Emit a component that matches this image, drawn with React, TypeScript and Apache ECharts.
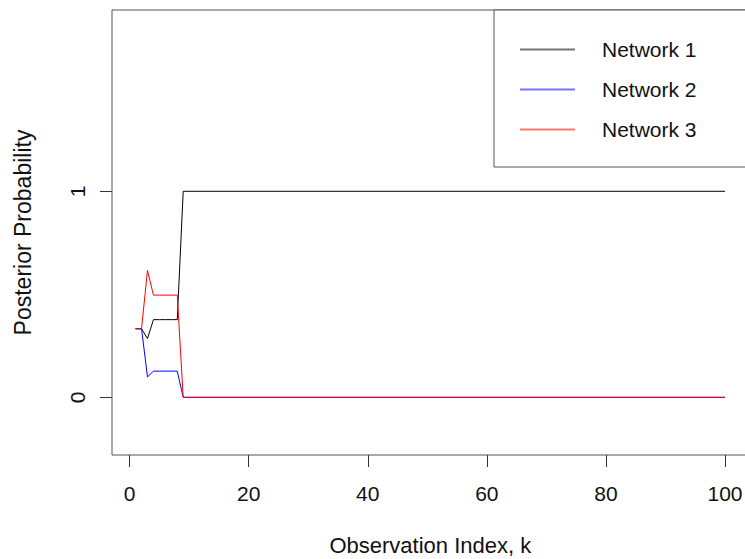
import React, { useEffect, useRef } from "react";
import * as echarts from "echarts";

// Observation index k (points where the lines change; lines are flat between 9 and 100)
const obsIndex = [1, 2, 3, 4, 5, 6, 7, 8, 9, 100];
const network1 = [0.333, 0.333, 0.285, 0.377, 0.377, 0.377, 0.377, 0.377, 1, 1];
const network2 = [0.333, 0.333, 0.099, 0.127, 0.127, 0.127, 0.127, 0.127, 0, 0];
const network3 = [0.333, 0.333, 0.616, 0.496, 0.496, 0.496, 0.496, 0.496, 0, 0];

const seriesNames = ["Network 1", "Network 2", "Network 3"];
const seriesColors = ["#000000", "#0000ff", "#ff0000"];
const xTicks = [0, 20, 40, 60, 80, 100];
const yTicks = [0, 1];

const FONT = "'Liberation Sans', Arial, Helvetica, sans-serif";

export default function App() {
  const ref = useRef<HTMLDivElement>(null);
  useEffect(() => {
    if (!ref.current) return;
    const chart = echarts.init(ref.current, null, { renderer: "svg" });
    const values = [network1, network2, network3];
    chart.setOption({
      animation: false,
      backgroundColor: "#ffffff",
      grid: {
        left: 112,
        top: 10,
        width: 636.6,
        height: 445,
        show: true,
        borderColor: "#555",
        borderWidth: 1,
        backgroundColor: "transparent",
        containLabel: false,
        outerBoundsMode: "none",
      },
      xAxis: {
        type: "value",
        min: -2.96,
        max: 103.96,
        name: "Observation Index, k",
        nameLocation: "middle",
        nameGap: 79,
        nameTextStyle: { fontFamily: FONT, fontSize: 22, color: "#111" },
        axisLine: { show: false, onZero: false },
        splitLine: { show: false },
        axisTick: {
          show: true,
          length: 12,
          customValues: xTicks,
          lineStyle: { color: "#333", width: 1 },
        },
        axisLabel: {
          customValues: xTicks,
          margin: 28,
          fontFamily: FONT,
          fontSize: 21,
          color: "#111",
          hideOverlap: false,
        },
      },
      yAxis: {
        type: "value",
        min: -0.28,
        max: 1.88,
        name: "Posterior Probability",
        nameLocation: "middle",
        nameGap: 78,
        nameTextStyle: { fontFamily: FONT, fontSize: 23, color: "#111" },
        axisLine: { show: false, onZero: false },
        splitLine: { show: false },
        axisTick: {
          show: true,
          length: 12,
          customValues: yTicks,
          lineStyle: { color: "#333", width: 1 },
        },
        axisLabel: {
          customValues: yTicks,
          rotate: 90,
          margin: 24,
          fontFamily: FONT,
          fontSize: 21,
          color: "#111",
        },
      },
      legend: {
        orient: "vertical",
        left: 494,
        top: 10,
        padding: [29, 200, 27, 26],
        itemWidth: 55,
        itemHeight: 2,
        itemGap: 19,
        borderColor: "#555",
        borderWidth: 1,
        backgroundColor: "#fff",
        textStyle: { fontFamily: FONT, fontSize: 21, color: "#111", padding: [0, 0, 0, 22] },
        data: seriesNames.map((name, i) => ({
          name,
          icon: "rect",
          itemStyle: { color: seriesColors[i], borderWidth: 0, opacity: 0.55 },
        })),
      },
      series: seriesNames.map((name, i) => ({
        name,
        type: "line",
        symbol: "none",
        showSymbol: false,
        data: obsIndex.map((k, j) => [k, values[i][j]]),
        lineStyle: { color: seriesColors[i], width: 1 },
        itemStyle: { color: seriesColors[i] },
      })),
    });
    return () => chart.dispose();
  }, []);
  return (
    <div
      ref={ref}
      style={{ position: "fixed", left: 0, top: 0, width: 745, height: 559 }}
    />
  );
}
